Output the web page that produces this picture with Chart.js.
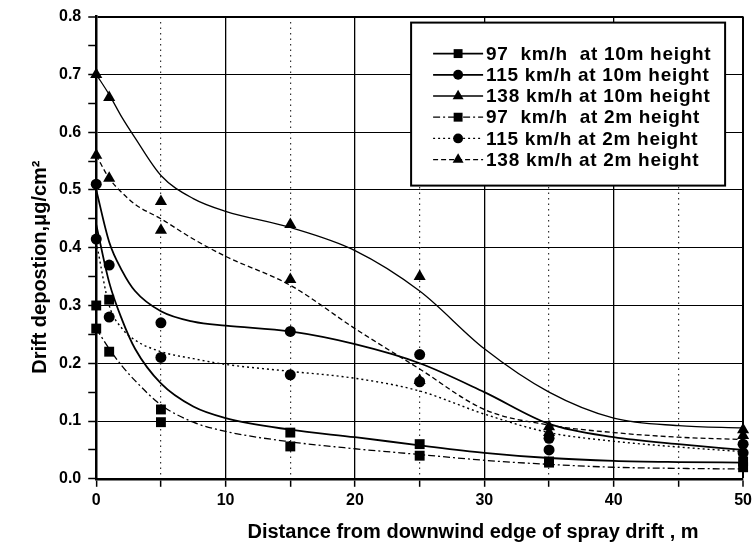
<!DOCTYPE html>
<html>
<head>
<meta charset="utf-8">
<script src="https://cdn.jsdelivr.net/npm/chart.js@4.4.1/dist/chart.umd.min.js"></script>
<style>
html, body { margin: 0; padding: 0; background: #fff; }
#wrap { width: 756px; height: 550px; }
</style>
</head>
<body>
<div id="wrap"><canvas id="driftChart"></canvas></div>
<script>
// measured points: distance (m) -> deposition (ug/cm2)
var distances = [0, 1, 5, 15, 25, 35, 50];
var dep97at10  = [0.30, 0.31, 0.12, 0.080, 0.060, 0.030, 0.030];
var dep115at10 = [0.51, 0.37, 0.27, 0.255, 0.215, 0.070, 0.060];
var dep138at10 = [0.70, 0.66, 0.48, 0.440, 0.350, 0.090, 0.085];
var dep97at2   = [0.26, 0.22, 0.098, 0.056, 0.040, 0.028, 0.020];
var dep115at2  = [0.415, 0.28, 0.21, 0.180, 0.168, 0.050, 0.045];
var dep138at2  = [0.56, 0.52, 0.43, 0.345, 0.170, 0.080, 0.075];

// fitted curves
var fitDist = [0, 1, 2, 3, 5, 7.5, 10, 15, 20, 25, 30, 35, 40, 45, 50];
var fit97at10  = [0.44, 0.34, 0.275, 0.225, 0.165, 0.125, 0.105, 0.085, 0.072, 0.058, 0.045, 0.036, 0.031, 0.029, 0.028];
var fit115at10 = [0.50, 0.41, 0.36, 0.325, 0.29, 0.272, 0.265, 0.255, 0.233, 0.200, 0.150, 0.095, 0.072, 0.060, 0.050];
var fit138at10 = [0.70, 0.665, 0.625, 0.59, 0.525, 0.485, 0.463, 0.435, 0.395, 0.325, 0.225, 0.150, 0.105, 0.092, 0.088];
var fit97at2   = [0.26, 0.225, 0.195, 0.17, 0.128, 0.098, 0.082, 0.064, 0.052, 0.042, 0.032, 0.025, 0.020, 0.018, 0.017];
var fit115at2  = [0.41, 0.30, 0.26, 0.24, 0.22, 0.208, 0.198, 0.186, 0.174, 0.152, 0.112, 0.080, 0.065, 0.055, 0.047];
var fit138at2  = [0.56, 0.52, 0.495, 0.475, 0.45, 0.415, 0.385, 0.335, 0.260, 0.190, 0.120, 0.093, 0.080, 0.072, 0.068];

var seriesNames = ['97  km/h  at 10m height', '115 km/h at 10m height', '138 km/h at 10m height',
                   '97  km/h  at 2m height', '115 km/h at 2m height', '138 km/h at 2m height'];

var pointsList = [dep97at10, dep115at10, dep138at10, dep97at2, dep115at2, dep138at2];
var fitList = [fit97at10, fit115at10, fit138at10, fit97at2, fit115at2, fit138at2];

// look of each series: marker, line dash, line width
var looks = [
    { marker: 'rect',     radius: 7,   dash: [],           width: 1.8 },
    { marker: 'circle',   radius: 5.5, dash: [],           width: 1.8 },
    { marker: 'triangle', radius: 7,   dash: [],           width: 1.3 },
    { marker: 'rect',     radius: 7,   dash: [7, 3, 2, 3], width: 1.3 },
    { marker: 'circle',   radius: 5.5, dash: [2, 3],       width: 1.4 },
    { marker: 'triangle', radius: 7,   dash: [5, 3],       width: 1.3 }
];

function pairs(xs, ys) {
    return xs.map(function (x, i) { return { x: x, y: ys[i] }; });
}

var datasets = [];
seriesNames.forEach(function (name, i) {
    var lk = looks[i];
    datasets.push({
        label: name,
        data: pairs(distances, pointsList[i]),
        showLine: false,
        pointStyle: lk.marker,
        pointRadius: lk.radius,
        pointBackgroundColor: '#000',
        pointBorderColor: '#000',
        pointBorderWidth: 0,
        clip: false,
        order: i === 4 ? 0.5 : 0
    });
    datasets.push({
        label: name + ' fit',
        data: pairs(fitDist, fitList[i]),
        borderColor: '#000',
        borderWidth: lk.width,
        borderDash: lk.dash,
        pointRadius: 0,
        cubicInterpolationMode: 'monotone',
        order: 1
    });
});

var boldFont = '"Liberation Sans", Arial, sans-serif';

var legendBox = {
    id: 'legendBox',
    afterDraw: function (chart) {
        var ctx = chart.ctx, area = chart.chartArea;
        var w = 314, h = 163;
        var left = area.right - 18 - w, top = area.top + 6;
        ctx.save();
        ctx.fillStyle = '#fff';
        ctx.fillRect(left, top, w, h);
        ctx.lineWidth = 2;
        ctx.strokeStyle = '#000';
        ctx.strokeRect(left, top, w, h);
        ctx.font = 'bold 19px ' + boldFont;
        if ('letterSpacing' in ctx) ctx.letterSpacing = '0.7px';
        ctx.textBaseline = 'middle';
        seriesNames.forEach(function (name, i) {
            var lk = looks[i];
            var y = top + 31 + i * 21.2;
            ctx.strokeStyle = '#000';
            ctx.fillStyle = '#000';
            ctx.lineWidth = lk.width;
            ctx.setLineDash(lk.dash);
            ctx.beginPath();
            ctx.moveTo(left + 22, y);
            ctx.lineTo(left + 72, y);
            ctx.stroke();
            ctx.setLineDash([]);
            Chart.helpers.drawPoint(ctx, { pointStyle: lk.marker, radius: lk.radius * 0.9, borderWidth: 0, rotation: 0 }, left + 47, y);
            ctx.fillText(name, left + 75, y + 1);
        });
        ctx.restore();
    }
};

function isMultiple(v, step) {
    return Math.abs(Math.round(v / step) * step - v) < 1e-6;
}

var ctx = document.getElementById('driftChart');
new Chart(ctx, {
    type: 'line',
    data: { datasets: datasets },
    options: {
        responsive: true,
        maintainAspectRatio: false,
        animation: false,
        layout: { padding: { left: 28, right: 9, top: 8, bottom: 6 } },
        plugins: {
            legend: { display: false },
            tooltip: { enabled: false }
        },
        scales: {
            x: {
                type: 'linear',
                min: 0,
                max: 50,
                ticks: {
                    stepSize: 5,
                    padding: 4,
                    color: '#000',
                    font: { family: boldFont, size: 16, weight: 'bold' },
                    callback: function (v) { return isMultiple(v, 10) ? v : ''; }
                },
                grid: {
                    color: function (c) {
                        var v = c.tick.value;
                        return (isMultiple(v, 10) && v > 0) ? '#000' : 'rgba(0,0,0,0)';
                    },
                    lineWidth: function (c) { return c.tick.value === 50 ? 2 : 1.3; },
                    tickColor: '#000',
                    tickLength: 8,
                    tickWidth: 1.5
                },
                border: { color: '#000', width: 2.5 },
                title: {
                    display: true,
                    align: 'end',
                    text: 'Distance from downwind edge of spray drift , m        ',
                    color: '#000',
                    font: { family: boldFont, size: 20, weight: 'bold' },
                    padding: { top: 6, bottom: 0 }
                }
            },
            x2: {
                type: 'linear',
                position: 'bottom',
                min: 0,
                max: 50,
                ticks: { display: false, stepSize: 5 },
                grid: {
                    drawTicks: false,
                    color: function (c) {
                        return isMultiple(c.tick.value, 10) ? 'rgba(0,0,0,0)' : '#333';
                    },
                    lineWidth: 1.2
                },
                border: { display: false, dash: [1.5, 4] }
            },
            y: {
                min: 0,
                max: 0.8,
                ticks: {
                    stepSize: 0.05,
                    padding: 7,
                    color: '#000',
                    font: { family: boldFont, size: 16, weight: 'bold' },
                    callback: function (v) { return isMultiple(v, 0.1) ? v.toFixed(1) : ''; }
                },
                grid: {
                    color: function (c) {
                        var v = c.tick.value;
                        return (isMultiple(v, 0.1) && v > 0.001) ? '#000' : 'rgba(0,0,0,0)';
                    },
                    lineWidth: function (c) { return c.tick.value > 0.79 ? 2 : 1; },
                    tickColor: '#000',
                    tickLength: 8,
                    tickWidth: 1.5
                },
                border: { color: '#000', width: 2.5 },
                title: {
                    display: true,
                    text: 'Drift depostion,\u03bcg/cm\u00b2       ',
                    color: '#000',
                    font: { family: boldFont, size: 20, weight: 'bold' },
                    padding: { top: 0, bottom: 0 }
                }
            }
        }
    },
    plugins: [legendBox]
});
</script>
</body>
</html>
